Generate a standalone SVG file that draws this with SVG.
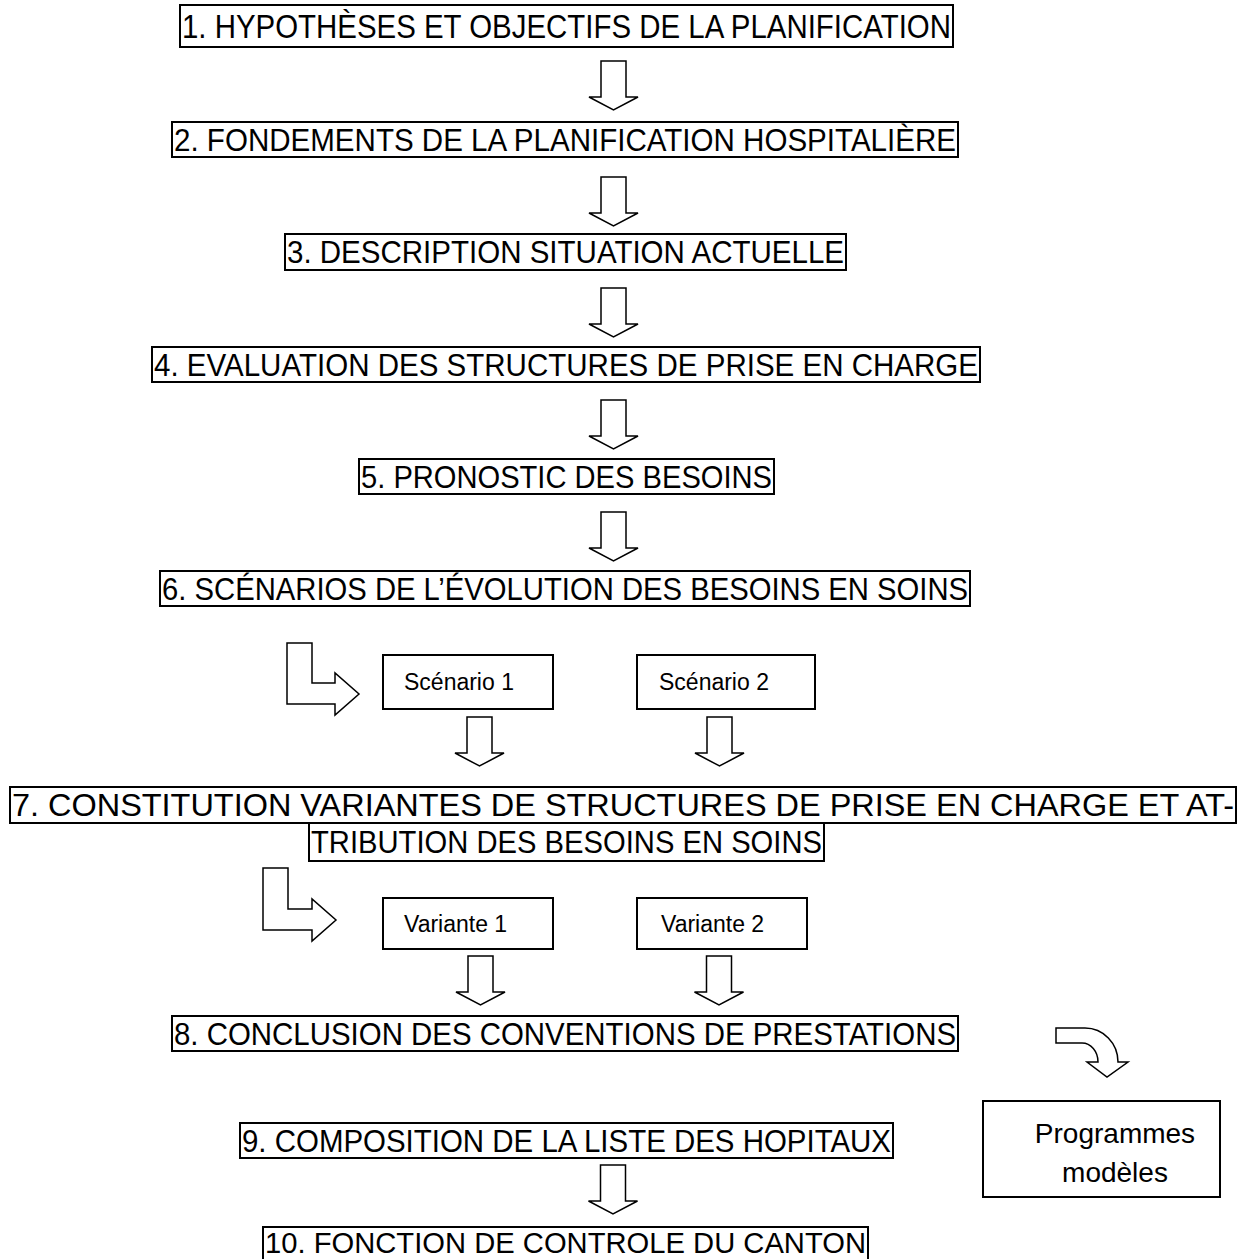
<svg xmlns="http://www.w3.org/2000/svg" xmlns:xlink="http://www.w3.org/1999/xlink" width="1252" height="1259" viewBox="0 0 1252 1259">
<style>
.box{fill:none;stroke:#000;stroke-width:2}
.h{font-family:"Liberation Sans",Arial,sans-serif;font-size:31px;fill:#000}
.s{font-family:"Liberation Sans",Arial,sans-serif;font-size:23px;fill:#000}
.p{font-family:"Liberation Sans",Arial,sans-serif;font-size:28px;fill:#000;text-anchor:middle}
.arr{fill:#fff;stroke:#000;stroke-width:1.5;stroke-linejoin:miter}
</style>
<defs>
<path id="darrow" d="M-12.5,0 H12.5 V36 H24.5 L0,49 L-24.5,36 H-12.5 Z"/>
</defs>
<rect width="1252" height="1259" fill="#fff"/>
<g id="n1"><rect class="box" x="180" y="5" width="773" height="42"/><text class="h" style="font-size:34px" x="182" y="38" textLength="769" lengthAdjust="spacingAndGlyphs">1. HYPOTHÈSES ET OBJECTIFS DE LA PLANIFICATION</text></g>
<g id="n2"><rect class="box" x="172" y="122" width="786" height="35"/><text class="h" x="174" y="151" textLength="782" lengthAdjust="spacingAndGlyphs">2. FONDEMENTS DE LA PLANIFICATION HOSPITALIÈRE</text></g>
<g id="n3"><rect class="box" x="285" y="234" width="561" height="36"/><text class="h" x="287" y="263" textLength="557" lengthAdjust="spacingAndGlyphs">3. DESCRIPTION SITUATION ACTUELLE</text></g>
<g id="n4"><rect class="box" x="152" y="347" width="828" height="35"/><text class="h" x="154" y="376" textLength="824" lengthAdjust="spacingAndGlyphs">4. EVALUATION DES STRUCTURES DE PRISE EN CHARGE</text></g>
<g id="n5"><rect class="box" x="359" y="459" width="415" height="35"/><text class="h" x="361" y="488" textLength="411" lengthAdjust="spacingAndGlyphs">5. PRONOSTIC DES BESOINS</text></g>
<g id="n6"><rect class="box" x="160" y="571" width="810" height="35"/><text class="h" x="162" y="600" textLength="806" lengthAdjust="spacingAndGlyphs">6. SCÉNARIOS DE L’ÉVOLUTION DES BESOINS EN SOINS</text></g>
<g id="s1"><rect class="box" x="383" y="655" width="170" height="54"/><text class="s" x="404" y="690">Scénario 1</text></g>
<g id="s2"><rect class="box" x="637" y="655" width="178" height="54"/><text class="s" x="659" y="690">Scénario 2</text></g>
<g id="n7"><rect class="box" x="10" y="787" width="1226" height="36"/><rect class="box" x="309" y="823" width="515" height="38"/><text class="h" x="12" y="816" textLength="1222" lengthAdjust="spacingAndGlyphs">7. CONSTITUTION VARIANTES DE STRUCTURES DE PRISE EN CHARGE ET AT-</text><text class="h" x="311" y="853" textLength="511" lengthAdjust="spacingAndGlyphs">TRIBUTION DES BESOINS EN SOINS</text></g>
<g id="v1"><rect class="box" x="383" y="898" width="170" height="51"/><text class="s" x="404" y="932">Variante 1</text></g>
<g id="v2"><rect class="box" x="637" y="898" width="170" height="51"/><text class="s" x="661" y="932">Variante 2</text></g>
<g id="n8"><rect class="box" x="172" y="1016" width="786" height="35"/><text class="h" x="174" y="1045" textLength="782" lengthAdjust="spacingAndGlyphs">8. CONCLUSION DES CONVENTIONS DE PRESTATIONS</text></g>
<g id="pm"><rect class="box" x="983" y="1101" width="237" height="96"/><text class="p" x="1115" y="1143">Programmes</text><text class="p" x="1115" y="1182">modèles</text></g>
<g id="n9"><rect class="box" x="240" y="1123" width="653" height="35"/><text class="h" x="242" y="1152" textLength="649" lengthAdjust="spacingAndGlyphs">9. COMPOSITION DE LA LISTE DES HOPITAUX</text></g>
<g id="n10"><rect class="box" x="263" y="1227" width="605" height="40"/><text class="h" style="font-size:29px" x="265" y="1253" textLength="601" lengthAdjust="spacingAndGlyphs">10. FONCTION DE CONTROLE DU CANTON</text></g>
<g id="connectors">
<use xlink:href="#darrow" class="arr" x="613.5" y="61"/>
<use xlink:href="#darrow" class="arr" x="613.5" y="177"/>
<use xlink:href="#darrow" class="arr" x="613.5" y="288"/>
<use xlink:href="#darrow" class="arr" x="613.5" y="400"/>
<use xlink:href="#darrow" class="arr" x="613.5" y="512"/>
<use xlink:href="#darrow" class="arr" x="479.5" y="717"/>
<use xlink:href="#darrow" class="arr" x="719.5" y="717"/>
<use xlink:href="#darrow" class="arr" x="480.5" y="956"/>
<use xlink:href="#darrow" class="arr" x="719" y="956"/>
<use xlink:href="#darrow" class="arr" x="613" y="1165"/>
<path class="arr" d="M287,643 H312 V683 H335 V673 L359,694 L335,715 V704 H287 Z"/>
<path class="arr" d="M263,868 H288 V909 H312 V899 L336,920 L312,941 V930 H263 Z"/>
<path class="arr" d="M1056,1028 H1085 A33,34 0 0 1 1118,1062 H1128 L1107,1077 L1087,1062 H1098 A16,19 0 0 0 1082,1043 H1056 Z"/>
</g>
</svg>
